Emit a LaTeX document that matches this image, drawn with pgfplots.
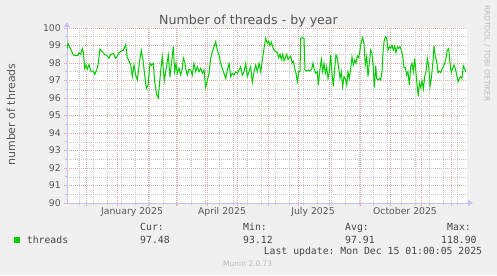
\documentclass[border=0pt]{standalone}
\usepackage{fontspec}
\setmainfont{DejaVu Sans}
\setmonofont{DejaVu Sans Mono}
\usepackage{pgfplots}
\pgfplotsset{compat=1.18}
\usetikzlibrary{arrows.meta}
\definecolor{bgc}{HTML}{F0F0F0}
\definecolor{mgrid}{RGB}{236,172,172}
\definecolor{mingrid}{RGB}{200,200,200}
\definecolor{axc}{RGB}{195,195,250}
\definecolor{txt}{HTML}{555555}
\definecolor{leg}{HTML}{444444}
\definecolor{faint}{HTML}{BBBBBB}
\definecolor{lgreen}{HTML}{00CC00}
\newcommand\lf{\ttfamily\fontsize{9.8bp}{11bp}\selectfont}
\begin{document}
\begin{tikzpicture}[x=1bp,y=1bp]
\fill[bgc] (0,0) rectangle (497,275);
\path[use as bounding box] (0,0) rectangle (497,275);
\fill[white] (67,72) rectangle (467,247);
\begin{axis}[at={(67bp,72bp)}, anchor=south west, scale only axis,
  width=400bp, height=175bp,
  xmin=-19, xmax=381, ymin=90, ymax=100,
  axis x line=bottom, axis y line=left,
  axis line style={axc, line width=0.8bp, -{Triangle[length=5bp,width=6bp]}, shorten >=-6bp},
  xtick={0,31,62,90,121,151,182,212,243,274,304,335,365},
  xticklabels={},
  extra x ticks={46,136,227,319},
  extra x tick labels={January 2025,April 2025,July 2025,October 2025},
  extra x tick style={grid=none, major tick length=0pt, xticklabel style={anchor=north, inner sep=0pt, yshift=-4bp}},
  minor xtick={-7,7,...,371},
  ytick={90,91,...,100},
  minor ytick={90.5,91.5,...,99.5},
  grid=both,
  major grid style={mgrid, line width=0.5bp, dash pattern=on 1bp off 1bp},
  minor grid style={mingrid, line width=0.5bp, dash pattern=on 1bp off 1bp},
  tick align=outside, major tick length=3bp, minor tick length=2bp,
  tick style={mgrid, line width=0.6bp},
  minor tick style={mingrid, line width=0.6bp},
  ticklabel style={font=\fontsize{9.3bp}{10bp}\selectfont, text=txt},
  yticklabel style={inner sep=0pt, xshift=-3bp},
  /pgf/number format/assume math mode=true,
]
\addplot[lgreen, line width=1bp] coordinates {
(-19,98.83) (-18,99.12) (-16,98.87) (-14.7,98.70) (-12.7,98.46) (-10.3,98.42) (-8,98.43) (-7,98.59)
(-5.3,98.50) (-3.7,98.83) (-2.7,98.65) (-1.3,97.69) (0,97.88) (1.3,97.65) (3,97.92) (4.7,97.54)
(7.3,97.54) (8.7,97.35) (10.7,97.60) (12,97.87) (14,98.80) (16.3,98.64) (18.7,98.50) (21.3,98.40)
(23,98.27) (24.7,98.50) (27.3,98.54) (29.7,98.27) (31.3,98.40) (33,98.59) (35.3,98.69) (37.3,98.73)
(39.7,99.05) (41.3,98.30) (43,98.13) (44.7,97.90) (46.3,97.24) (48,97.88) (49.7,97.31) (51.3,97.03)
(54,98.25) (55.3,98.73) (57,98.17) (58.7,97.31) (60.3,96.55) (62,96.74) (64,97.98) (65.3,97.88)
(67.3,97.98) (68.7,96.93) (70.7,96.17) (72.3,96.02) (74,97.12) (75.3,97.88) (76.3,98.35) (78.3,97.0)
(82.3,98.45) (84,97.2) (87.3,98.93) (88.7,97.5) (90,97.97) (91.3,97.4) (93,97.7) (94.7,97.31)
(96.3,97.7) (97.3,98.30) (98.7,98.07) (100,97.6) (101.3,97.31) (103,97.65) (104.7,97.6) (106.3,97.31)
(108,97.98) (109.7,97.5) (111.3,97.79) (113,97.5) (114.7,97.7) (116.3,97.41) (118,97.6) (119.7,96.6)
(121.3,97.0) (123,97.41) (124.7,98.27) (126.3,98.64) (128,98.93) (129.7,99.22) (131.3,98.74) (133,98.45)
(134.7,97.98) (136.3,97.69) (138,97.41) (139.7,97.12) (141.3,97.6) (143,97.98) (144.7,97.22) (146.3,97.41)
(148,97.31) (149.7,97.5) (151.3,97.41) (153,97.6) (154.7,97.79) (156.3,97.31) (158,97.5) (159.7,97.98)
(161.3,97.22) (163,97.5) (164.7,97.79) (166.3,96.88) (168,97.5) (169.7,97.88) (171.3,97.5) (173,97.98)
(174.7,97.50) (176.3,98.17) (178,98.83) (179.7,99.40) (181.3,99.12) (182.7,99.25) (184,99.0) (185.3,99.2)
(186.7,98.93) (188,98.72) (189.7,98.65) (191.3,98.59) (192.7,98.3) (194,98.5) (195.3,98.21) (196.7,98.5)
(198,98.12) (199.3,98.3) (200.7,98.50) (202,98.21) (203.3,98.3) (204.7,98.4) (206,98.02) (207.3,98.1)
(208.7,97.69) (210,97.41) (211.3,96.93) (212.7,97.5) (214,97.5) (214.7,99.4) (216.7,99.45) (218,99.4)
(219,97.6) (220.7,97.54) (222.3,97.6) (224,97.54) (225.7,97.65) (227,98.0) (228,97.69) (229.7,97.41)
(231.3,97.5) (232.3,96.74) (233.7,97.5) (235.3,98.21) (236.7,97.5) (238,97.98) (239.3,97.41) (240.7,97.79)
(242,97.12) (243.3,97.5) (244.7,98.46) (246,97.41) (247.3,96.66) (248.7,97.69) (250,98.46) (251.3,98.3)
(252.7,97.69) (254,97.12) (255.3,97.5) (256.7,96.66) (258,97.22) (259.3,97.12) (260.7,96.74) (262,97.5)
(263.3,97.12) (264.7,97.69) (266,98.35) (267.3,97.88) (268.7,98.17) (270,97.98) (271.3,98.4) (272.7,98.3)
(274,98.74) (275.3,99.22) (276.7,99.45) (278,99.1) (279.3,97.88) (280.7,98.36) (282,97.22) (283.3,97.98)
(284.7,98.74) (286,98.55) (287.3,97.69) (288.3,96.6) (289.7,97.84) (290.7,97.12) (292,97.03) (293.3,97.12)
(294.7,97.03) (296,97.5) (297,98.6) (298,99.2) (299.3,99.5) (300.7,99.4) (302,98.74) (303.3,98.93)
(304.7,98.83) (306,99.02) (307.3,98.74) (308.7,98.97) (310,98.6) (311.3,98.93) (312.7,98.83) (314,98.93)
(315.3,98.74) (316.7,98.4) (318,97.74) (319.3,97.74) (320.7,97.31) (322,97.5) (323.3,96.74) (324.7,97.79)
(326,97.98) (327.3,97.5) (328.7,98.25) (330,97.41) (331.3,96.6) (332.3,96.1) (333.3,96.88) (334.7,96.6)
(336,97.0) (337.3,96.5) (338.7,97.22) (340,97.5) (341.3,98.26) (342.7,97.79) (344,96.66) (345.3,97.12)
(346.7,97.88) (348,98.97) (349.3,98.36) (350.7,98.07) (352,97.45) (353.3,97.54) (354.7,97.45) (356,97.65)
(357.3,97.79) (358.7,97.98) (360,98.3) (361.3,98.74) (362.7,98.83) (364,97.98) (365.3,97.45) (366.7,97.69)
(368,97.88) (369.3,97.69) (370.7,97.31) (372,96.93) (373.3,97.12) (374.7,97.22) (376,97.12) (377.3,97.84)
(378.7,97.65) (379.7,97.48)
};
\end{axis}
\node[anchor=base, inner sep=0pt, font=\fontsize{12.6bp}{14bp}\selectfont, text=txt] at (248.5,250.7) {Number of threads - by year};
\node[rotate=90, inner sep=0pt, font=\fontsize{11bp}{12bp}\selectfont, text=txt] at (11,160.5) {number of threads};
\node[rotate=-90, inner sep=0pt, font=\fontsize{7.5bp}{8bp}\selectfont, text=faint] at (487,221.5) {RRDTOOL / TOBI OETIKER};
\fill[lgreen] (14,32.3) rectangle (20,38.3);
\node[anchor=base west, inner sep=0pt, font=\lf, text=leg] at (26.7,31.7) {threads};
\node[anchor=base west, inner sep=0pt, font=\lf, text=leg] at (140,44.3) {Cur:};
\node[anchor=base west, inner sep=0pt, font=\lf, text=leg] at (140,31.7) {97.48};
\node[anchor=base west, inner sep=0pt, font=\lf, text=leg] at (243,44.3) {Min:};
\node[anchor=base west, inner sep=0pt, font=\lf, text=leg] at (243,31.7) {93.12};
\node[anchor=base west, inner sep=0pt, font=\lf, text=leg] at (345,44.3) {Avg:};
\node[anchor=base west, inner sep=0pt, font=\lf, text=leg] at (345,31.7) {97.91};
\node[anchor=base west, inner sep=0pt, font=\lf, text=leg] at (447,44.3) {Max:};
\node[anchor=base west, inner sep=0pt, font=\lf, text=leg] at (441,31.7) {118.90};
\node[anchor=base east, inner sep=0pt, font=\lf, text=leg] at (482.3,20.5) {Last update: Mon Dec 15 01:00:05 2025};
\node[anchor=base west, inner sep=0pt, font=\fontsize{7.5bp}{8bp}\selectfont, text=faint] at (223,8.3) {Munin 2.0.73};
\end{tikzpicture}
\end{document}
